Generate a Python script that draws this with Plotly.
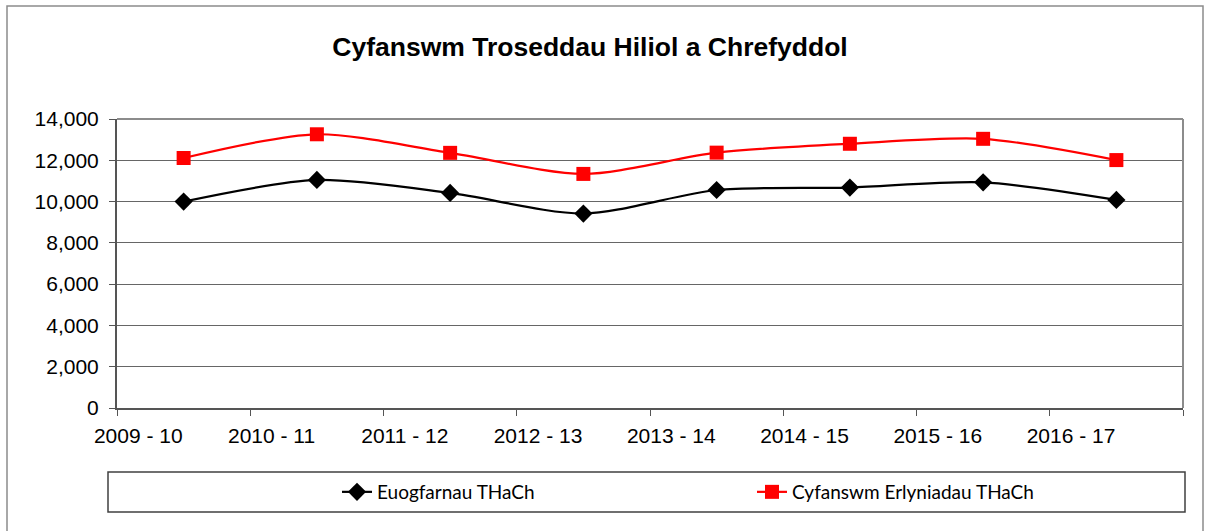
import plotly.graph_objects as go

categories = ["2009 - 10", "2010 - 11", "2011 - 12", "2012 - 13",
              "2013 - 14", "2014 - 15", "2015 - 16", "2016 - 17"]
euogfarnau = [10000, 11050, 10420, 9420, 10560, 10680, 10930, 10080]
erlyniadau = [12110, 13260, 12360, 11340, 12370, 12800, 13040, 12010]
series_names = ["Euogfarnau THaCh", "Cyfanswm Erlyniadau THaCh"]
title_text = "Cyfanswm Troseddau Hiliol a Chrefyddol"
y_ticks = [0, 2000, 4000, 6000, 8000, 10000, 12000, 14000]

idx = list(range(len(categories)))

fig = go.Figure()
fig.add_trace(go.Scatter(
    x=idx, y=euogfarnau, name=series_names[0], mode="lines+markers",
    line=dict(color="black", width=2.2, shape="spline", smoothing=0.8),
    marker=dict(symbol="diamond", size=14, color="black"),
))
fig.add_trace(go.Scatter(
    x=idx, y=erlyniadau, name=series_names[1], mode="lines+markers",
    line=dict(color="#ff0000", width=2.2, shape="spline", smoothing=0.8),
    marker=dict(symbol="square", size=14, color="#ff0000"),
))
# invisible trace to activate the label axis
fig.add_trace(go.Scatter(x=[-0.5], y=[0], xaxis="x2", mode="markers",
                         marker=dict(opacity=0), showlegend=False, hoverinfo="skip"))

n = len(categories)
fig.update_layout(
    width=1205, height=531,
    margin=dict(l=117, r=22, t=119, b=123),
    paper_bgcolor="white", plot_bgcolor="white",
    font=dict(family="Arial, Liberation Sans", size=21, color="black"),
    title=dict(text="<b>" + title_text + "</b>", x=590 / 1205, xanchor="center",
               y=1 - 47 / 531, yanchor="middle",
               font=dict(family="Arial, Liberation Sans", size=26.5, color="black")),
    xaxis=dict(range=[-0.5, n - 0.5], tickvals=[i - 0.5 for i in range(n + 1)],
               showticklabels=False, ticks="outside", ticklen=6, tickcolor="#555",
               showgrid=False, zeroline=False, showline=True, linecolor="#555",
               linewidth=2, mirror=False),
    xaxis2=dict(overlaying="x", side="bottom", range=[-0.5, n - 0.5],
                tickvals=[i - 0.34 for i in range(n)], ticktext=categories,
                ticks="", showgrid=False, zeroline=False, showline=False,
                ticklabelstandoff=13, tickfont=dict(size=21, color="black")),
    yaxis=dict(range=[0, 14000], tickvals=y_ticks, tickformat=",",
               ticks="outside", ticklen=6, tickcolor="#555",
               showgrid=True, gridcolor="#666", gridwidth=1, zeroline=False,
               showline=True, linecolor="#555", linewidth=2,
               ticklabelstandoff=6,
               tickfont=dict(size=21, color="black")),
    showlegend=True,
    legend=dict(orientation="h", x=(337 - 117) / 1066, xanchor="left",
                y=(408 - 492) / 289, yanchor="middle",
                bgcolor="rgba(0,0,0,0)", borderwidth=0,
                entrywidth=370, entrywidthmode="pixels",
                font=dict(family="Liberation Sans Narrow, Lato, Arial", size=19, color="black")),
    shapes=[
        # top and right plot-area border (gray)
        dict(type="line", xref="paper", yref="paper", x0=0, x1=1, y0=1, y1=1,
             line=dict(color="#8c8c8c", width=2)),
        dict(type="line", xref="paper", yref="paper", x0=1, x1=1, y0=0, y1=1,
             line=dict(color="#8c8c8c", width=2)),
        # legend box
        dict(type="rect", xref="paper", yref="paper",
             x0=(108 - 117) / 1066, x1=(1185 - 117) / 1066,
             y0=(408 - 512) / 289, y1=(408 - 472) / 289,
             line=dict(color="#404040", width=1.5)),
        # outer chart border
        dict(type="rect", xref="paper", yref="paper",
             x0=(7 - 117) / 1066, x1=(1203 - 117) / 1066,
             y0=(408 - 540) / 289, y1=(408 - 6) / 289,
             line=dict(color="#8c8c8c", width=1.5)),
    ],
)

fig.write_html("out.html", config={"displayModeBar": False},
               post_script="document.body.style.margin='0';")
